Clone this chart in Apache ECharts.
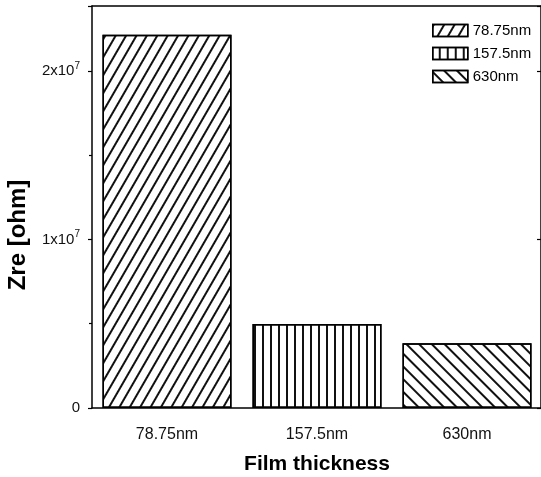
<!DOCTYPE html>
<html>
<head>
<meta charset="utf-8">
<script src="https://cdn.jsdelivr.net/npm/echarts@6/dist/echarts.min.js"></script>
<style>html,body{margin:0;padding:0;background:#fff}#c{width:541px;height:477px}</style>
</head>
<body>
<div id="c"></div>
<script>
const categories = ['78.75nm', '157.5nm', '630nm'];
const seriesNames = ['78.75nm', '157.5nm', '630nm'];
const values = [2.214e7, 4.98e6, 3.84e6];
const yTicks = [0, 1e7, 2e7];

const FONT = '"Liberation Sans", Arial, sans-serif';
const decals = [
  { symbol: 'rect', symbolSize: 1, color: '#111', dashArrayX: [1, 0], dashArrayY: [1.1, 6.4], rotation: -Math.PI / 3 },
  { symbol: 'rect', symbolSize: 1, color: '#111', dashArrayX: [1, 0], dashArrayY: [1.1, 5.8], rotation: Math.PI / 2 },
  { symbol: 'rect', symbolSize: 1, color: '#111', dashArrayX: [1, 0], dashArrayY: [1.1, 6.6], rotation: Math.PI / 4 }
];

const chart = echarts.init(document.getElementById('c'), null, { renderer: 'canvas' });
const series = seriesNames.map((name, i) => ({
  name: name,
  type: 'bar',
  stack: 'all',
  barWidth: 129,
  data: categories.map((c, j) => (j === i ? values[i] : '-')),
  itemStyle: { color: '#fff', borderColor: '#000', borderWidth: 1.5, decal: decals[i] },
  emphasis: { disabled: true }
}));

chart.setOption({
  animation: false,
  backgroundColor: '#fff',
  textStyle: { fontFamily: FONT },
  grid: { left: 92, top: 6, width: 450, height: 402, containLabel: false, outerBoundsMode: 'none' },
  legend: {
    orient: 'vertical',
    left: 427,
    top: 18,
    icon: 'rect',
    itemWidth: 35,
    itemHeight: 12,
    itemGap: 8,
    selectedMode: false,
    data: seriesNames,
    textStyle: { fontFamily: FONT, fontSize: 15, color: '#000' },
    itemStyle: { borderColor: '#000', borderWidth: 1.5 }
  },
  xAxis: [{
    type: 'category',
    data: categories,
    name: 'Film thickness',
    nameLocation: 'middle',
    nameGap: 46,
    nameTextStyle: { fontFamily: FONT, fontSize: 21, fontWeight: 'bold', color: '#000' },
    axisLine: { lineStyle: { color: '#000', width: 1.5 } },
    axisTick: { alignWithLabel: true, length: 5, lineStyle: { color: '#000', width: 1.2 } },
    axisLabel: { fontFamily: FONT, fontSize: 16, color: '#111', margin: 19 },
    splitLine: { show: false }
  }, {
    type: 'category',
    data: categories,
    position: 'top',
    axisLine: { onZero: false, lineStyle: { color: '#000', width: 1.5 } },
    axisTick: { show: false },
    axisLabel: { show: false }
  }],
  yAxis: [{
    type: 'value',
    min: 0,
    max: 2.385e7,
    interval: 1e7,
    name: 'Zre [ohm]',
    nameLocation: 'middle',
    nameGap: 62,
    nameTextStyle: { fontFamily: FONT, fontSize: 24, fontWeight: 'bold', color: '#000', padding: [0, 56, 0, 0] },
    axisLine: { show: true, lineStyle: { color: '#000', width: 1.5 } },
    axisTick: { show: true, length: 4, lineStyle: { color: '#000', width: 1.2 } },
    minorTick: { show: true, splitNumber: 2, length: 3, lineStyle: { color: '#000', width: 1.2 } },
    splitLine: { show: false },
    axisLabel: {
      showMaxLabel: false,
      margin: 12,
      fontFamily: FONT,
      fontSize: 15,
      color: '#111',
      formatter: function (v) {
        if (v === 0) return '0';
        return (v / 1e7) + 'x10{sup|7}';
      },
      rich: { sup: { fontFamily: FONT, fontSize: 10, color: '#111', padding: [0, 0, 10, 0] } }
    }
  }, {
    type: 'value',
    position: 'right',
    offset: -1,
    min: 0,
    max: 2.385e7,
    interval: 1e7,
    axisLine: { show: true, onZero: false, lineStyle: { color: '#000', width: 1.5 } },
    axisTick: { show: true, inside: true, length: 4, lineStyle: { color: '#000', width: 1.2 } },
    axisLabel: { show: false },
    splitLine: { show: false }
  }],
  series: series
});
</script>
</body>
</html>
